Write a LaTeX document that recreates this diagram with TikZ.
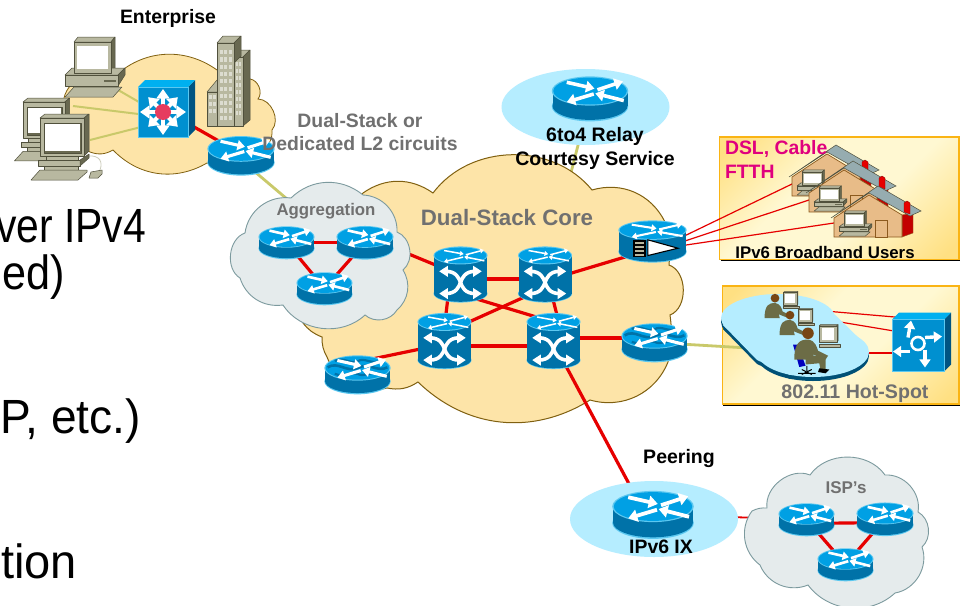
\documentclass[tikz,border=0pt]{standalone}
\usepackage{fontspec}
\setmainfont{Liberation Sans}
\usetikzlibrary{arrows.meta,calc}
\definecolor{rtop}{RGB}{0,160,228}
\definecolor{rside}{RGB}{0,114,168}
\definecolor{rrim}{RGB}{92,200,240}
\definecolor{corefill}{RGB}{253,228,168}
\definecolor{coreline}{RGB}{128,96,16}
\definecolor{greyfill}{RGB}{229,235,236}
\definecolor{greyline}{RGB}{124,154,158}
\definecolor{iceblue}{RGB}{181,237,255}
\definecolor{linkred}{RGB}{230,0,0}
\definecolor{linkolive}{RGB}{201,201,106}
\definecolor{labgrey}{RGB}{112,112,112}
\definecolor{pinklab}{RGB}{224,0,126}
\definecolor{pcface}{RGB}{184,184,160}
\definecolor{pcdark}{RGB}{104,104,80}
\definecolor{pcline}{RGB}{80,80,60}
\definecolor{wallc}{RGB}{232,188,136}
\definecolor{wallline}{RGB}{140,90,30}
\definecolor{roofc}{RGB}{150,172,176}
\definecolor{cubeside}{RGB}{0,84,130}
\definecolor{cubetop}{RGB}{0,176,240}
\definecolor{cubefront}{RGB}{0,144,208}
\definecolor{panelmid}{RGB}{255,248,210}
\definecolor{panelgold}{RGB}{255,224,130}
\definecolor{panelborder}{RGB}{250,180,20}
\definecolor{persona}{RGB}{108,108,70}
\definecolor{personh}{RGB}{120,70,20}
\definecolor{dotpink}{RGB}{230,60,95}
\pgfdeclarehorizontalshading{panelsh}{100bp}{color(0bp)=(panelgold); color(18bp)=(panelgold); color(40bp)=(panelmid); color(58bp)=(panelmid); color(82bp)=(panelgold); color(100bp)=(panelgold)}
\tikzset{
  bl/.style={bend left=#1}, bl/.default=50,
  devbox/.style={inner sep=0pt,outer sep=0pt,minimum width=1pt,minimum height=1pt},
  redthick/.style={draw=linkred,line width=3.2pt},
  redthin/.style={draw=linkred,line width=1.2pt},
  olivelink/.style={draw=linkolive,line width=2.8pt},
  olivethin/.style={draw=linkolive,line width=2pt},
  blab/.style={font=\bfseries,inner sep=0pt,outer sep=0pt,align=center},
  bigtxt/.style={anchor=base east,inner sep=0pt,outer sep=0pt,transform shape,font=\fontsize{48}{48}\selectfont},
  corecloud/.style={fill=corefill,draw=coreline,line width=1pt,line join=miter},
  greycloud/.style={fill=greyfill,draw=greyline,line width=.9pt},
  pcs/.style={fill=pcface,draw=pcline,line width=.5pt,line join=round},
  pcd/.style={fill=pcdark,draw=pcline,line width=.5pt,line join=round},
  panelbox/.style={draw=panelborder,line width=1.2pt,shading=panelsh,shading angle=-45},
}
\newcommand{\wharrow}[5]{\draw[white,line width=#1pt,-{Triangle[length=0pt 2.4 0,width=0pt 3.2]}] (#2,#3) -- (#4,#5);}
\newcommand{\toparrows}[1]{%
  \pgfmathsetmacro{\lw}{#1*.095}
  \wharrow{\lw}{-.62}{-.58}{.12}{-.16}
  \wharrow{\lw}{.2}{-.08}{.88}{-.64}
  \wharrow{\lw}{.1}{.2}{-.62}{.74}
  \wharrow{\lw}{.9}{.64}{.14}{.16}
}
\newcommand{\routerdev}[3][]{%
 \begin{scope}[shift={(#2)},scale=#3]
  \fill[rrim] (0,.21) ellipse[x radius=1.02,y radius=.4];
  \fill[rside] (-1,-.2) rectangle (1,.2);
  \fill[rside] (0,.2) ellipse[x radius=1,y radius=.37];
  \fill[rrim] (0,-.2) ellipse[x radius=1.02,y radius=.39];
  \fill[rtop] (0,-.2) ellipse[x radius=.98,y radius=.36];
  #1
  \begin{scope}[shift={(0,-.2)},yscale=.4]
   \toparrows{#3}
  \end{scope}
 \end{scope}}
\newcommand{\waves}{%
  \draw[rside,line width=2.6pt] (-.92,-.22) .. controls (-.6,-.42) and (-.35,-.05) .. (0,-.2) .. controls (.35,-.4) and (.6,-.05) .. (.92,-.22);
  \draw[rside,line width=2.2pt] (-.7,-.42) .. controls (-.4,-.55) and (-.2,-.3) .. (0,-.4) .. controls (.2,-.55) and (.4,-.3) .. (.7,-.42);
  \draw[rside,line width=2.2pt] (-.7,-.02) .. controls (-.4,.1) and (-.2,-.12) .. (0,-.02) .. controls (.2,.1) and (.4,-.12) .. (.7,-.02);}
\newcommand{\atmdev}[1]{%
 \begin{scope}[shift={(#1)},scale=26.5]
  \fill[rrim] (0,.72) ellipse[x radius=1.02,y radius=.34];
  \fill[rside] (-1,-.72) rectangle (1,.72);
  \fill[rside] (0,.72) ellipse[x radius=1,y radius=.31];
  \fill[rrim] (0,-.72) ellipse[x radius=1.02,y radius=.34];
  \fill[rtop] (0,-.72) ellipse[x radius=.98,y radius=.3];
  \begin{scope}[shift={(0,-.72)},yscale=.32]\toparrows{16}\end{scope}
  \draw[white,line width=3.6pt] (-.55,-.12) .. controls (-.16,-.12) and (-.06,.14) .. (0,.3) .. controls (.06,.46) and (.16,.72) .. (.55,.72);
  \draw[white,line width=3.6pt] (-.55,.72) .. controls (-.16,.72) and (-.06,.46) .. (0,.3) .. controls (.06,.14) and (.16,-.12) .. (.55,-.12);
  \foreach \sx in {-1,1}{\foreach \sy in {-.12,.72}{
   \fill[white] (\sx*.8,\sy) -- (\sx*.48,\sy-.21) -- (\sx*.48,\sy+.21) -- cycle;}}
 \end{scope}}
\newcommand{\cubebody}[2]{%
  \fill[cubeside] ($(#1)+(#2,-#2)$) -- ++(7,-7) -- ++(0,2*#2) -- ++(-7,7) -- cycle;
  \fill[cubetop] ($(#1)+(-#2,-#2)$) -- ++(7,-7) -- ++(2*#2,0) -- ++(-7,7) -- cycle;
  \fill[cubefront,draw=rrim,line width=.8pt] ($(#1)+(-#2,-#2)$) rectangle ($(#1)+(#2,#2)$);}
\newcommand{\pcflat}[3]{%
 \begin{scope}[shift={(#1,#2)},scale=#3]
  \filldraw[pcs] (0,0) -- (4,-5) -- (41,-5) -- (37,0) -- cycle;
  \filldraw[pcd] (37,0) -- (41,-5) -- (41,26) -- (37,31) -- cycle;
  \filldraw[pcs] (-9,33) -- (-2,26) -- (51,26) -- (44,33) -- cycle;
  \filldraw[pcd] (44,33) -- (51,26) -- (51,33) -- (44,44) -- cycle;
  \filldraw[pcs] (-9,33) rectangle (44,44);
  \filldraw[pcs] (0,0) rectangle (37,31);
  \fill[white] (3,4) rectangle (34,27);
  \fill[pcdark] (30,38) rectangle (42,40);
  \filldraw[pcs] (-9,55) -- (0,45) -- (48,45) -- (39,55) -- cycle;
 \end{scope}}
\newcommand{\pcstand}[3]{%
 \begin{scope}[shift={(#1,#2)},scale=#3]
  \filldraw[pcs] (0,0) -- (5,-4) -- (49,-4) -- (44,0) -- cycle;
  \filldraw[pcd] (44,0) -- (49,-4) -- (49,33) -- (44,38) -- cycle;
  \filldraw[pcs] (0,0) rectangle (44,38);
  \fill[pcd] (4,5) rectangle (41,35);
  \fill[white] (5,6) rectangle (40,33);
  \filldraw[pcs] (6,38) rectangle (38,42);
  \filldraw[pcs] (-2,42) rectangle (40,48);
  \filldraw[pcd] (40,42) -- (49,36) -- (49,40) -- (40,48) -- cycle;
  \filldraw[pcs] (4,48) rectangle (38,52);
  \filldraw[pcs] (-9,62) -- (0,52) -- (47,52) -- (47,54) -- (38,62) -- cycle;
 \end{scope}}
\newcommand{\housedev}[2]{%
 \begin{scope}[shift={(#1,#2)}]
  \filldraw[fill=linkred!85!black,draw=wallline,line width=.4pt] (68,0) -- (79,-4) -- (79,-24) -- (68,-22) -- cycle;
  \filldraw[fill=wallc,draw=wallline,line width=.7pt] (0,0) -- (0,-19) -- (35,-42) -- (68,-22) -- (68,0) -- cycle;
  \filldraw[fill=wallc,draw=wallline,line width=.5pt] (41,-17) rectangle (53,0);
  \filldraw[fill=roofc,draw=pcline,line width=.5pt] (-3,-19) -- (44,-51) -- (87,-26) -- (76,-21) -- (35,-44) -- cycle;
  \filldraw[fill=linkred,draw=linkred!60!black,line width=.3pt] (70,-34) -- (73,-36) -- (76,-34) -- (76,-23) -- (70,-25) -- cycle;
  \begin{scope}[shift={(10,-24)},xscale=1.3]\pcflat{0}{0}{.42}\end{scope}
 \end{scope}}
\newcommand{\pcmini}[2]{%
 \begin{scope}[shift={(#1,#2)}]
  \filldraw[pcs] (0,0) -- (1,-1) -- (15,-1) -- (14,0) -- cycle;
  \filldraw[pcd] (14,0) -- (15,-1) -- (15,12) -- (14,13) -- cycle;
  \filldraw[pcs] (0,0) rectangle (14,13);
  \fill[white] (2,2) rectangle (12,11);
  \filldraw[pcs] (0,15) rectangle (17,17);
 \end{scope}}
\newcommand{\persondev}[4]{%
 \begin{scope}[shift={(#1,#2)},scale=#3]
  #4
  \fill[persona] (-11,18) .. controls (-11,4) and (-6,2) .. (0,2) .. controls (6,3) and (7,8) .. (8,11) -- (16,15) -- (14,18) -- (4,14) -- (5,18) -- cycle;
  \fill[personh] (0,-3) circle[radius=4.6];
  \pcmini{9}{-9}
 \end{scope}}
\newcommand{\blobfill}[1]{%
  \fill[#1] (778,318) ellipse[x radius=57,y radius=24];
  \fill[#1] (813,352) ellipse[x radius=56,y radius=25];
  \fill[#1] (723,325) -- (757,360) -- (790,375) -- (866,345) -- (826,306) -- (760,300) -- cycle;}
\begin{document}
\begin{tikzpicture}[x=1pt,y=-1pt]
\useasboundingbox (0,0) rectangle (960,605);
\clip (0,0) rectangle (960,605);
\fill[white] (0,0) rectangle (960,605);
\node[devbox] (RE) at (241,155.5) {};
\node[devbox] (CB) at (163,112) {};
\node[devbox] (PCa) at (113,87) {};
\node[devbox] (PCb) at (73,106) {};
\node[devbox] (PCc) at (90,140) {};
\node[devbox] (R6) at (590,98.5) {};
\node[devbox] (A1) at (286.5,242.5) {};
\node[devbox] (A2) at (365,242.5) {};
\node[devbox] (A3) at (324.5,288.5) {};
\node[devbox] (WL) at (357.5,374.5) {};
\node[devbox] (WR) at (654.5,342.5) {};
\node[devbox] (S1) at (460.5,274.5) {};
\node[devbox] (S2) at (545,274.5) {};
\node[devbox] (S3) at (444.5,341) {};
\node[devbox] (S4) at (553.5,341) {};
\node[devbox] (AM) at (652.5,241.5) {};
\node[devbox] (IX) at (653,514.5) {};
\node[devbox] (I1) at (806.5,519.5) {};
\node[devbox] (I2) at (885,519) {};
\node[devbox] (I3) at (845.5,564.5) {};
\node[devbox] (HC) at (918,345.5) {};
\coordinate (aggin) at (300,210);
\coordinate (corein) at (561.4,210);
\coordinate (H1p) at (792,184);
\coordinate (H2p) at (809,200);
\coordinate (H3p) at (834,223);
\coordinate (B1p) at (825,311);
\coordinate (B2p) at (840,322);
\coordinate (B3p) at (860,353);
\coordinate (Bol) at (765,349);
% right panels
\fill[black] (721,139) rectangle (960,261);
\path[panelbox] (719.5,137) rectangle (959,259.5);
\fill[black] (723,288) rectangle (960,405.5);
\path[panelbox] (722.5,286) rectangle (959,404);
\draw[olivelink] (R6.center) -- (corein);
\fill[iceblue] (585.5,107) ellipse[x radius=84,y radius=38];
% clouds
\path[corecloud] (303,323) to[bl=20] (363,193) to[bl=35] (433,193) to[bl=52] (592,190) to[bl=40] (665,222) to[bl=10] (669,265) to[bl=70] (670,315) to[bl=10] (668,362) to[bl=42] (590,400) to[bl=38] (418,382) to[bl=22] (387,388) to[bl=42] (327,357) to[bl=15] (322,337) to[bl=15] cycle;
\path[corecloud,line width=.8pt] (64,98) to[bl=55] (113,78) to[bl=40] (217,70) to[bl=35] (250,79) to[bl=60] (258,99) to[bl=65] (272,130) to[bl=30] (262,150) to[bl=30] (207,163) to[bl=38] (113,150) to[bl=25] (90,152) to[bl=40] (64,98);
\draw[olivethin] (PCa.center) -- ([yshift=-4pt]CB.center);
\draw[olivethin] (PCb.center) -- ([yshift=-5pt]CB.center);
\draw[olivethin] (PCc.center) -- ([yshift=-9.4pt]CB.center);
\draw[redthick] ([xshift=17pt,yshift=-7pt]CB.center) -- ([xshift=-16pt,yshift=11pt]RE.center);
\draw[olivelink] ([yshift=-4.5pt]RE.center) -- (aggin);
% core links
\draw[redthick] ([yshift=6.5pt]A2.center) -- ([xshift=-10.5pt,yshift=3.5pt]S1.center);
\draw[redthick] ([yshift=-4.5pt]S1.center) -- ([yshift=-4.5pt]S2.center);
\draw[redthick] ([yshift=-5pt]S3.center) -- ([yshift=-5pt]S4.center);
\draw[redthick] ([xshift=-12.5pt,yshift=-22.5pt]S1.center) -- ([xshift=1pt,yshift=23pt]S3.center);
\draw[redthick] ([xshift=9.5pt,yshift=-22.5pt]S1.center) -- ([xshift=-10.5pt,yshift=22pt]S4.center);
\draw[redthick] ([xshift=-15pt,yshift=-20pt]S2.center) -- ([xshift=15.5pt,yshift=15pt]S3.center);
\draw[redthick] ([xshift=8pt,yshift=-25pt]S2.center) -- ([xshift=4pt,yshift=24pt]S4.center);
\draw[redthick] ([xshift=20pt,yshift=-.5pt]S2.center) -- ([xshift=-22.5pt,yshift=-14pt]AM.center);
\draw[redthick] ([yshift=3pt]S4.center) -- ([yshift=4.5pt]WR.center);
\draw[redthick] ([xshift=-14.5pt,yshift=-6pt]S3.center) -- ([xshift=7.5pt,yshift=14pt]WL.center);
\draw[redthick] ([xshift=6.5pt,yshift=-14pt]S4.center) -- ([xshift=-18pt,yshift=19.5pt]IX.center);
\draw[redthin,line width=1.8pt] (IX.center) -- (I1.center);
\draw[redthin] ([xshift=17.5pt,yshift=-1.4pt]AM.center) -- (H1p);
\draw[redthin] ([xshift=17.5pt,yshift=-4.4pt]AM.center) -- (H2p);
\draw[redthin] ([xshift=17.5pt,yshift=-5.9pt]AM.center) -- (H3p);
\fill[iceblue] (654,519) ellipse[x radius=84,y radius=38];
% grey clouds
\path[greycloud] (245,233) to[bl=45] (291,198) to[bl=42] (363,195) to[bl=45] (397,232) to[bl=60] (403,270) to[bl=40] (397,310) to[bl=50] (365,315) to[bl=50] (283,305) to[bl=40] (240,278) to[bl=65] cycle;
\path[greycloud] (752,511) to[bl=15] (767,508) to[bl=60] (810,475) to[bl=55] (885,475) to[bl=52] (918,512) to[bl=55] (922,547) to[bl=50] (895,593) to[bl=48] (808,585) to[bl=45] (760,565) to[bl=45] cycle;
\draw[redthick] (A1.center) -- (A2.center);
\draw[redthick] (A1.center) -- (A3.center);
\draw[redthick] (A2.center) -- (A3.center);
\draw[redthick] ([yshift=-4pt]I1.center) -- ([yshift=-3.5pt]I2.center);
\draw[redthick] (I1.center) -- (I3.center);
\draw[redthick] (I2.center) -- (I3.center);
% hot-spot
\draw[olivelink] (WR.center) -- (Bol);
\draw[redthin] (B1p) -- ([yshift=26.5pt]HC.center);
\draw[redthin] (B2p) -- ([yshift=10.5pt]HC.center);
\draw[redthin] (B3p) -- ([yshift=-7.5pt]HC.center);
\begin{scope}[shift={(0,4)}]\blobfill{rside!70!black}\end{scope}
\blobfill{iceblue}
\persondev{775}{301}{.95}{}
\persondev{790}{318}{.95}{}
\persondev{808}{337}{1.25}{\fill[blue!75!black] (-12,6) -- (-8,6) -- (-2,23) -- (-7,24) -- cycle;
  \draw[black,line width=1pt] (-1,23) -- (-1,27) (-8,29) -- (6,29) (-5,26) -- (3,30) (3,26) -- (-5,30);
  \fill[persona] (-2,14) -- (14,16) -- (14,26) -- (10,26) -- (9,21) -- (-2,22) -- cycle;
  \fill[black] (9,25) -- (17,26) -- (14,29) -- (8,28) -- cycle;}
\cubebody{HC}{26}
\begin{scope}[shift={(HC)}]
 \draw[white,line width=2.6pt] (0,-2) circle[radius=6.5];
 \wharrow{3.4}{-10}{-8}{-7}{-25}
 \wharrow{3.4}{7}{-8}{24}{-9}
 \wharrow{3.4}{-8}{6}{-25}{6}
 \wharrow{3.4}{7}{4}{7}{22}
\end{scope}
\housedev{792}{196}
\housedev{809}{212}
\housedev{834}{237}
% enterprise building
\filldraw[pcs] (207,92) -- (217,80) -- (230,80) -- (217,92) -- cycle;
\filldraw[pcs] (207,92) rectangle (217,126);
\filldraw[pcd] (234,57) -- (241,50) -- (241,126) -- (234,126) -- cycle;
\filldraw[pcs] (234,57) -- (241,50) -- (250,50) -- (243,57) -- cycle;
\filldraw[pcd] (243,57) -- (250,50) -- (250,120) -- (243,126) -- cycle;
\filldraw[pcs] (234,57) rectangle (243,126);
\filldraw[pcs] (217,43) -- (223,36) -- (241,36) -- (234,43) -- cycle;
\filldraw[pcd] (234,43) -- (241,36) -- (241,56) -- (234,63) -- cycle;
\filldraw[pcs] (217,43) rectangle (234,126);
\foreach \iy in {50,57.3,...,120}{\foreach \ix in {219.5,224,228.5}{\fill[pcface!50!white] (\ix,\iy) rectangle +(3,4.2);}}
\foreach \iy in {62,69,...,112}{\foreach \ix in {235.5,239}{\fill[pcface!50!white] (\ix,\iy) rectangle +(2.4,4);}}
\foreach \iy in {95,102,109}{\foreach \ix in {209,213}{\fill[pcface!50!white] (\ix,\iy) rectangle +(2.6,4);}}
% PCs
\pcflat{74}{42}{1}
\pcstand{23}{102}{.95}
\draw[pcface!70!white,line width=.8pt] (88,156) .. controls (100,155) and (103,162) .. (100,170);
\pcstand{40}{118}{1}
\filldraw[pcs] (89,178) -- (91,172) -- (102,170) -- (102,174) -- (98,178) -- cycle;
% enterprise switch
\cubebody{CB}{25}
\begin{scope}[shift={(CB)}]
 \foreach \a in {0,45,...,315}{\begin{scope}[rotate=\a]\wharrow{4}{4}{0}{\ifodd\numexpr\a/45\relax 21\else 23\fi}{0}\end{scope}}
 \fill[dotpink] (0,0) circle[radius=8];
\end{scope}
% routers
\routerdev{RE}{33}
\routerdev{R6}{37.5}
\routerdev{A1}{27.5}
\routerdev{A2}{28}
\routerdev{A3}{27.5}
\routerdev[\waves]{WL}{32.5}
\routerdev[\waves]{WR}{32.5}
\routerdev{IX}{40}
\routerdev{I1}{27.5}
\routerdev{I2}{28}
\routerdev{I3}{27.5}
\atmdev{S1}
\atmdev{S2}
\atmdev{S3}
\atmdev{S4}
% amplifier device
\begin{scope}[shift={(AM)},scale=33.5]
  \fill[rrim] (0,.3) ellipse[x radius=1.02,y radius=.33];
  \fill[rside] (-1,-.34) rectangle (1,.3);
  \fill[rside] (0,.3) ellipse[x radius=1,y radius=.3];
  \fill[rrim] (0,-.34) ellipse[x radius=1.02,y radius=.29];
  \fill[rtop] (0,-.34) ellipse[x radius=.98,y radius=.26];
  \begin{scope}[shift={(0,-.34)},yscale=.28]\toparrows{22}\end{scope}
  \fill[black] (-.58,-.05) rectangle (-.2,.47);
  \foreach \by in {0,.12,.24,.36}{\fill[pcface] (-.52,\by) rectangle (-.24,\by+.06);}
  \filldraw[fill=white,draw=black,line width=1.1pt] (-.14,-.05) -- (.76,.2) -- (-.14,.42) -- cycle;
\end{scope}
% labels
\node[blab,font=\bfseries\fontsize{19.4}{21}\selectfont] (tEnt) at (168,18) {Enterprise};
\node[blab,font=\bfseries\fontsize{19.4}{23.5}\selectfont,text=labgrey] (tDual) at (360,132) {Dual-Stack or\\Dedicated L2 circuits};
\node[blab,font=\bfseries\fontsize{16.8}{20}\selectfont,text=labgrey] (tAgg) at (326,211) {Aggregation};
\node[blab,font=\bfseries\fontsize{22.3}{26}\selectfont,text=labgrey] (tCore) at (507,218) {Dual-Stack Core};
\node[blab,font=\bfseries\fontsize{19.5}{24}\selectfont] (tRelay) at (595,148) {6to4 Relay\\Courtesy Service};
\node[blab,font=\bfseries\fontsize{19.4}{24}\selectfont,text=pinklab,align=left,anchor=north west] (tDsl) at (725,140) {DSL, Cable\\FTTH};
\node[blab,font=\bfseries\fontsize{16.8}{20}\selectfont] (tBb) at (825,252) {IPv6 Broadband Users};
\node[blab,font=\bfseries\fontsize{19.6}{20}\selectfont,text=labgrey] (tHot) at (855,394) {802.11 Hot-Spot};
\node[blab,font=\bfseries\fontsize{19.5}{20}\selectfont] (tPeer) at (679,458) {Peering};
\node[blab,font=\bfseries\fontsize{19.4}{20}\selectfont] (tIx) at (661,547) {IPv6 IX};
\node[blab,font=\bfseries\fontsize{17}{20}\selectfont,text=labgrey] (tIsp) at (846,488) {ISP’s};
\node[bigtxt,xscale=.85] (t1) at (146,242) {ver IPv4};
\node[bigtxt,xscale=.9] (t2) at (65,289) {ed)};
\node[bigtxt,xscale=.96] (t3) at (141,433) {P, etc.)};
\node[bigtxt,xscale=.98] (t4) at (77,578) {tion};
\end{tikzpicture}
\end{document}
